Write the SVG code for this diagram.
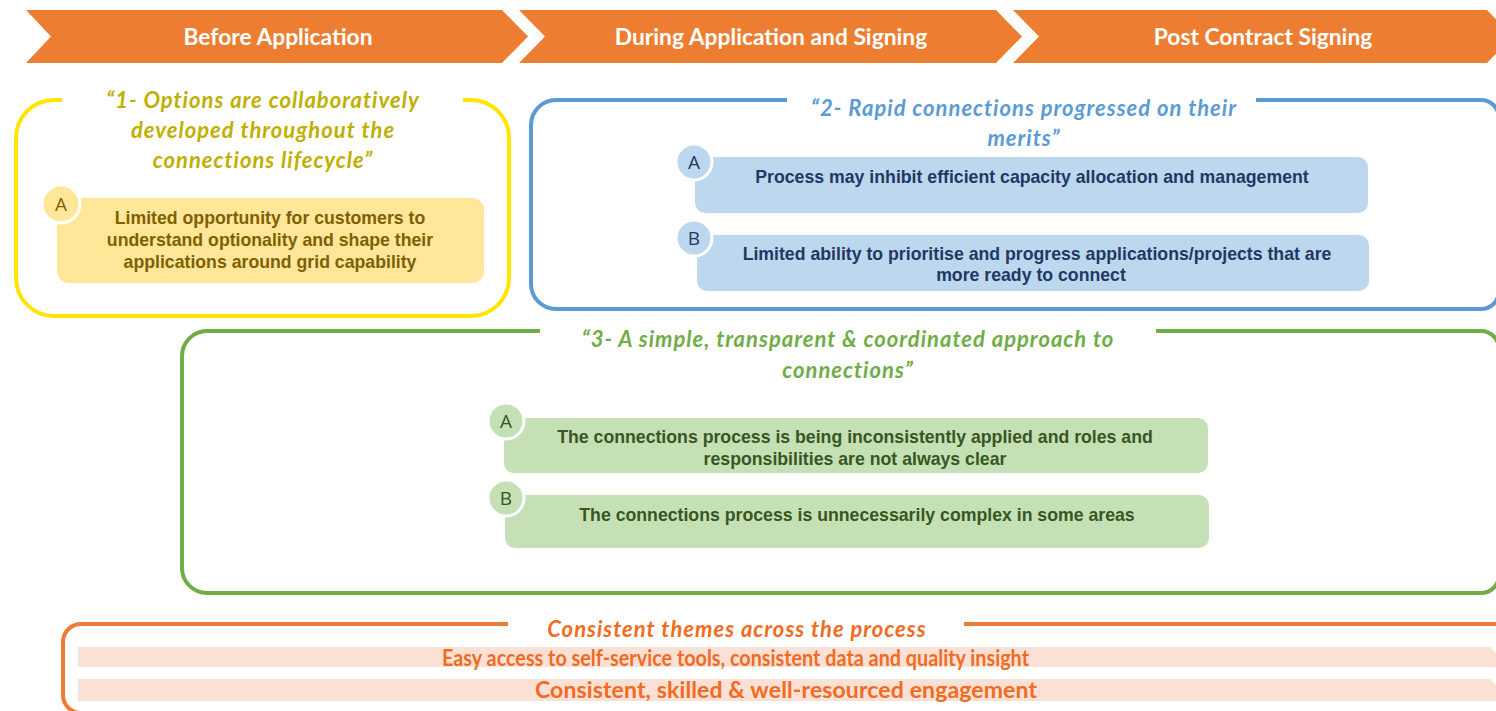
<svg xmlns="http://www.w3.org/2000/svg" width="1496" height="711" viewBox="0 0 1496 711">
<style>
.hdr{fill:#ED7D31}
.hdrt{font-family:Lato,"Open Sans",sans-serif;font-weight:700;font-size:22.8px;fill:#FFFFFF;text-anchor:middle}
.frame{fill:none;stroke-width:4;stroke-linecap:butt}
.ttl{font-family:Lato,"Open Sans",sans-serif;font-weight:700;font-style:italic;font-size:22px;letter-spacing:1px;text-anchor:middle}
.it{font-family:"Liberation Sans",Arial,sans-serif;font-weight:700;font-size:17.7px;text-anchor:middle}
.let{font-family:"Open Sans","DejaVu Sans",sans-serif;font-size:19px;text-anchor:middle}
.bullet{stroke:#FFFFFF;stroke-width:3}
.theme{font-family:Lato,"Open Sans",sans-serif;font-weight:700;font-size:20px;fill:#F26B21}
</style>
<rect width="1496" height="711" fill="#FFFFFF"/>

<g id="phase-before">
<polygon class="hdr" points="26,10 502,10 528,36.5 502,63 26,63 51,36.5"/>
<text class="hdrt" x="278" y="45">Before Application</text>
</g>
<g id="phase-during">
<polygon class="hdr" points="519,10 996,10 1022,36.5 996,63 519,63 545,36.5"/>
<text class="hdrt" x="771" y="45">During Application and Signing</text>
</g>
<g id="phase-post">
<polygon class="hdr" points="1013,10 1487,10 1513,36.5 1487,63 1013,63 1039,36.5"/>
<text class="hdrt" x="1263" y="45">Post Contract Signing</text>
</g>

<g id="theme1">
<path class="frame" stroke="#FFE600" d="M62,100 H54 A38,38 0 0 0 16,138 V278 A38,38 0 0 0 54,316 H471 A38,38 0 0 0 509,278 V138 A38,38 0 0 0 471,100 H463"/>
<text class="ttl" fill="#BFAF00" x="263" y="108">“1- Options are collaboratively</text>
<text class="ttl" fill="#BFAF00" x="263" y="138">developed throughout the</text>
<text class="ttl" fill="#BFAF00" x="263" y="168">connections lifecycle”</text>
</g>
<g id="item1A">
<rect x="57" y="198" width="427" height="85" rx="12" fill="#FFE699"/>
<circle class="bullet" cx="61" cy="204" r="19" fill="#FFE699"/>
<text class="let" fill="#7F6000" x="61" y="211">A</text>
<text class="it" fill="#7F6000" x="270" y="224">Limited opportunity for customers to</text>
<text class="it" fill="#7F6000" x="270" y="246">understand optionality and shape their</text>
<text class="it" fill="#7F6000" x="270" y="268">applications around grid capability</text>
</g>

<g id="theme2">
<path class="frame" stroke="#5B9BD5" d="M787,100 H556 A25,25 0 0 0 531,125 V284 A25,25 0 0 0 556,309 H1481 A18,18 0 0 0 1499,291 V118 A18,18 0 0 0 1481,100 H1256"/>
<text class="ttl" fill="#5B9BD5" x="1024" y="116">“2- Rapid connections progressed on their</text>
<text class="ttl" fill="#5B9BD5" x="1024" y="146">merits”</text>
</g>
<g id="item2A">
<rect x="695" y="157" width="673" height="56" rx="10" fill="#BDD7EE"/>
<circle class="bullet" cx="694" cy="162" r="18" fill="#BDD7EE"/>
<text class="let" fill="#1F3864" x="694" y="169">A</text>
<text class="it" fill="#1F3864" x="1032" y="183">Process may inhibit efficient capacity allocation and management</text>
</g>
<g id="item2B">
<rect x="697" y="235" width="672" height="56" rx="10" fill="#BDD7EE"/>
<circle class="bullet" cx="694" cy="238" r="18" fill="#BDD7EE"/>
<text class="let" fill="#1F3864" x="694" y="245">B</text>
<text class="it" fill="#1F3864" x="1037" y="260">Limited ability to prioritise and progress applications/projects that are</text>
<text class="it" fill="#1F3864" x="1031" y="281">more ready to connect</text>
</g>

<g id="theme3">
<path class="frame" stroke="#70AD47" d="M540,331 H207 A25,25 0 0 0 182,356 V568 A25,25 0 0 0 207,593 H1481 A18,18 0 0 0 1499,575 V349 A18,18 0 0 0 1481,331 H1156"/>
<text class="ttl" fill="#70AD47" x="848" y="347">“3- A simple, transparent &amp; coordinated approach to</text>
<text class="ttl" fill="#70AD47" x="848" y="378">connections”</text>
</g>
<g id="item3A">
<rect x="504" y="418" width="704" height="55" rx="10" fill="#C5E0B4"/>
<circle class="bullet" cx="506" cy="421" r="18" fill="#C5E0B4"/>
<text class="let" fill="#375623" x="506" y="428">A</text>
<text class="it" fill="#375623" x="855" y="443">The connections process is being inconsistently applied and roles and</text>
<text class="it" fill="#375623" x="855" y="465">responsibilities are not always clear</text>
</g>
<g id="item3B">
<rect x="505" y="495" width="704" height="53" rx="10" fill="#C5E0B4"/>
<circle class="bullet" cx="506" cy="498" r="18" fill="#C5E0B4"/>
<text class="let" fill="#375623" x="506" y="505">B</text>
<text class="it" fill="#375623" x="857" y="521">The connections process is unnecessarily complex in some areas</text>
</g>

<g id="theme-consistent">
<path class="frame" stroke="#ED7D31" d="M508,624 H81 A18,18 0 0 0 63,642 V695 A18,18 0 0 0 81,713"/>
<path class="frame" stroke="#ED7D31" d="M964,624 H1500"/>
<text class="ttl" fill="#F26B21" x="737" y="637">Consistent themes across the process</text>
</g>
<g id="bar1">
<path d="M78,647 H1490 L1496,653 V667 H78 Z" fill="#FBE0D5"/>
<text class="theme" x="442" y="666" style="font-size:22px" textLength="587" lengthAdjust="spacingAndGlyphs">Easy access to self-service tools, consistent data and quality insight</text>
</g>
<g id="bar2">
<path d="M78,679 H1490 L1496,685 V701 H78 Z" fill="#FBE0D5"/>
<text class="theme" x="535" y="698" style="font-size:23px" textLength="502">Consistent, skilled &amp; well-resourced engagement</text>
</g>
<g id="connectors"></g>
</svg>
